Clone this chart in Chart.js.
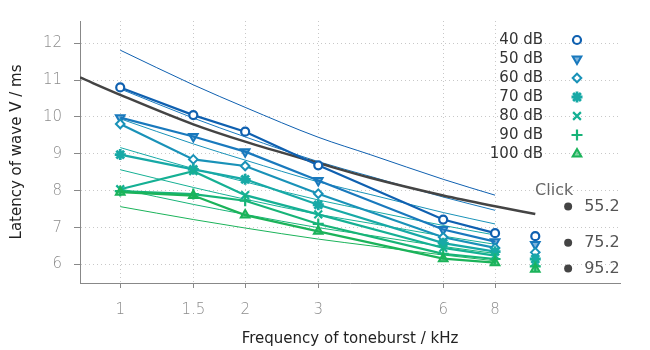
<!DOCTYPE html>
<html>
<head>
<meta charset="utf-8">
<script src="https://cdn.jsdelivr.net/npm/chart.js@4/dist/chart.umd.min.js"></script>
<style>
html,body{margin:0;padding:0;background:#fff;}
#wrap{width:650px;height:350px;}
</style>
</head>
<body>
<div id="wrap"><canvas id="c" width="650" height="350"></canvas></div>
<script>
// ---- data ----
const freqs = [1, 1.5, 2, 3, 6, 8];
const levels = ['40 dB', '50 dB', '60 dB', '70 dB', '80 dB', '90 dB', '100 dB'];
const lat40  = [10.80, 10.05, 9.60, 8.69, 7.22, 6.85];
const lat50  = [9.98, 9.47, 9.06, 8.28, 6.95, 6.62];
const lat60  = [9.81, 8.85, 8.67, 7.92, 6.74, 6.45];
const lat70  = [8.98, 8.58, 8.31, 7.62, 6.58, 6.35];
const lat80  = [8.04, 8.53, 7.88, 7.36, 6.45, 6.24];
const lat90  = [7.99, 7.91, 7.73, 7.10, 6.29, 6.15];
const lat100 = [7.96, 7.87, 7.34, 6.90, 6.16, 6.05];

const fitFreqs = [1, 1.5, 2, 3, 4, 6, 8];
const fit40  = [11.81, 10.87, 10.26, 9.45, 8.98, 8.31, 7.88];
const fit50  = [10.76, 9.97, 9.46, 8.79, 8.39, 7.83, 7.47];
const fit60  = [9.95, 9.27, 8.83, 8.24, 7.90, 7.41, 7.10];
const fit70  = [9.17, 8.60, 8.24, 7.75, 7.46, 7.06, 6.80];
const fit80  = [8.57, 8.09, 7.77, 7.36, 7.12, 6.77, 6.55];
const fit90  = [8.05, 7.63, 7.36, 7.00, 6.79, 6.49, 6.30];
const fit100 = [7.57, 7.22, 6.99, 6.69, 6.51, 6.26, 6.10];

const clickFreq = 10;
const clickLat = [6.77, 6.54, 6.33, 6.15, 6.06, 5.95, 5.87];

const meanFreqs = [0.8, 1, 1.5, 2, 3, 4, 6, 8, 10];
const meanLat   = [11.07, 10.6, 9.8, 9.33, 8.75, 8.35, 7.87, 7.58, 7.37];

const clickLevelLabels = ['55.2', '75.2', '95.2'];
const clickLevelFreq = 12;
const clickLevelLat = [7.57, 6.59, 5.89];

const xTicks = [1, 1.5, 2, 3, 6, 8];
const yTicks = [6, 7, 8, 9, 10, 11, 12];

// ---- styles ----
const colors = ['#0f60b0', '#1979bd', '#1992b8', '#17a9a6', '#15b094', '#17b478', '#1bb35a'];
const styles = [
  {pointStyle: 'circle', rotation: 0, radius: 4, bg: '#ffffff', bw: 2.2},
  {pointStyle: 'triangle', rotation: 180, radius: 5, bg: null, bw: 2},
  {pointStyle: 'rectRot', rotation: 0, radius: 4.3, bg: '#ffffff', bw: 2},
  {pointStyle: 'star', rotation: 0, radius: 5.5, bg: null, bw: 2.8},
  {pointStyle: 'crossRot', rotation: 0, radius: 5.5, bg: null, bw: 2.2},
  {pointStyle: 'cross', rotation: 0, radius: 5.5, bg: null, bw: 2.2},
  {pointStyle: 'triangle', rotation: 0, radius: 5, bg: null, bw: 2}
];
function lighten(hex, a) {
  const r = parseInt(hex.slice(1,3),16), g = parseInt(hex.slice(3,5),16), b = parseInt(hex.slice(5,7),16);
  return `rgba(${r},${g},${b},${a})`;
}

const latSets = [lat40, lat50, lat60, lat70, lat80, lat90, lat100];
const fitSets = [fit40, fit50, fit60, fit70, fit80, fit90, fit100];

const datasets = [];
datasets.push({
  label: 'clickLevels', data: clickLevelLat.map(v => ({x: clickLevelFreq, y: v})),
  showLine: false, pointRadius: 4, pointBackgroundColor: '#444', pointBorderColor: '#444', pointBorderWidth: 0
});
datasets.push({
  label: 'click', data: clickLat.map(v => ({x: clickFreq, y: v})), showLine: false,
  pointStyle: styles.map(s => s.pointStyle), pointRotation: styles.map(s => s.rotation),
  pointRadius: styles.map(s => s.radius), pointBorderWidth: styles.map(s => s.bw),
  pointBorderColor: colors, pointBackgroundColor: styles.map((s, i) => s.bg || lighten(colors[i], 0.55))
});
for (let i = latSets.length - 1; i >= 0; i--) {
  const s = styles[i];
  datasets.push({
    label: levels[i], data: freqs.map((f, k) => ({x: f, y: latSets[i][k]})),
    borderColor: colors[i], borderWidth: 2.2, showLine: true,
    pointStyle: s.pointStyle, pointRotation: s.rotation, pointRadius: s.radius,
    pointBorderWidth: s.bw, pointBorderColor: colors[i],
    pointBackgroundColor: s.bg || lighten(colors[i], 0.55)
  });
}
datasets.push({
  label: 'mean', data: meanFreqs.map((f, k) => ({x: f, y: meanLat[k]})),
  borderColor: '#444', borderWidth: 2.5, pointRadius: 0, showLine: true, cubicInterpolationMode: 'monotone'
});
for (let i = 0; i < fitSets.length; i++) {
  datasets.push({
    label: 'fit ' + levels[i], data: fitFreqs.map((f, k) => ({x: f, y: fitSets[i][k]})),
    borderColor: colors[i], borderWidth: 1, pointRadius: 0, showLine: true, cubicInterpolationMode: 'monotone'
  });
}

Chart.defaults.font.family = "'DejaVu Sans', sans-serif";
Chart.defaults.font.size = 15;

const overlay = {
  id: 'overlay',
  afterDraw(chart) {
    const ctx = chart.ctx;
    const area = chart.chartArea;
    const xs = chart.scales.x, ys = chart.scales.y;
    ctx.save();
    const textX = area.right - 77, markX = area.right - 43;
    levels.forEach((lab, i) => {
      const y = area.top + 19 + i * 19;
      ctx.font = "15px 'DejaVu Sans'";
      ctx.fillStyle = '#333';
      ctx.textAlign = 'right';
      ctx.textBaseline = 'middle';
      ctx.fillText(lab, textX, y);
      const s = styles[i];
      ctx.strokeStyle = colors[i];
      ctx.fillStyle = s.bg || lighten(colors[i], 0.55);
      ctx.lineWidth = s.bw;
      Chart.helpers.drawPoint(ctx, {pointStyle: s.pointStyle, rotation: s.rotation, radius: s.radius, borderWidth: s.bw}, markX, y);
    });
    const dx = xs.getPixelForValue(clickLevelFreq);
    ctx.font = "16px 'DejaVu Sans'";
    ctx.fillStyle = '#555';
    ctx.textAlign = 'left';
    ctx.textBaseline = 'middle';
    clickLevelLabels.forEach((t, k) => {
      ctx.fillText(t, dx + 16, ys.getPixelForValue(clickLevelLat[k]));
    });
    ctx.fillStyle = '#666';
    ctx.textAlign = 'center';
    ctx.fillText('Click', dx - 14, ys.getPixelForValue(clickLevelLat[0]) - 16);
    ctx.restore();
  }
};

new Chart(document.getElementById('c'), {
  type: 'scatter',
  data: {datasets},
  options: {
    responsive: false,
    animation: false,
    events: [],
    layout: {padding: {left: 0, right: 30, top: 18, bottom: 0}},
    plugins: {legend: {display: false}, tooltip: {enabled: false}},
    elements: {line: {tension: 0}},
    scales: {
      x: {
        type: 'logarithmic', min: 0.8, max: 16,
        afterBuildTicks: s => { s.ticks = xTicks.map(v => ({value: v})); },
        afterFit: s => { s.height = 67; },
        ticks: {color: '#8c8c8c', padding: 13, autoSkip: false, maxRotation: 0,
                font: {size: 15, weight: 300}, callback: v => String(v)},
        grid: {color: '#c8c8c8', lineWidth: 1, tickLength: 5, tickColor: '#888', tickWidth: 1, tickBorderDash: [1, 0]},
        border: {color: '#888', width: 1, dash: [1, 3]},
        title: {display: true, text: 'Frequency of toneburst / kHz', color: '#222',
                font: {size: 15}, padding: {top: 0, bottom: 2}}
      },
      y: {
        type: 'linear', min: 5.5, max: 12.6,
        afterBuildTicks: s => { s.ticks = yTicks.map(v => ({value: v})); },
        afterFit: s => { s.width = 80; },
        ticks: {color: '#8c8c8c', padding: 12, font: {size: 15, weight: 300}},
        grid: {color: '#c8c8c8', lineWidth: 1, tickLength: 6, tickColor: '#888', tickWidth: 1, tickBorderDash: [1, 0]},
        border: {color: '#888', width: 1, dash: [1, 3]},
        title: {display: true, text: 'Latency of wave V / ms', color: '#222',
                font: {size: 15}, padding: {top: 8, bottom: 0}}
      }
    }
  },
  plugins: [overlay]
});
</script>
</body>
</html>
